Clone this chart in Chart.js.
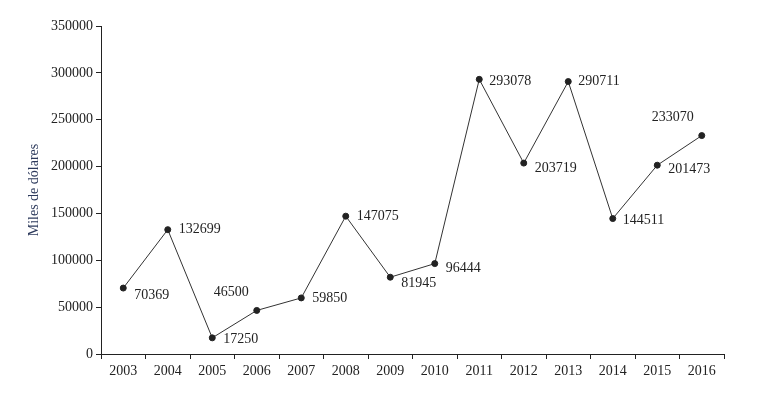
<!DOCTYPE html>
<html>
<head>
<meta charset="utf-8">
<script src="https://cdn.jsdelivr.net/npm/chart.js@4"></script>
<style>
  body { margin: 0; background: #fff; }
  #wrap { width: 782px; height: 400px; }
</style>
</head>
<body>
<div id="wrap"><canvas id="c"></canvas></div>
<script>
const years = ["2003", "2004", "2005", "2006", "2007", "2008", "2009", "2010", "2011", "2012", "2013", "2014", "2015", "2016"];
const values = [70369, 132699, 17250, 46500, 59850, 147075, 81945, 96444, 293078, 203719, 290711, 144511, 201473, 233070];
// label offsets (dx, dy, align) per point
const labelPos = [
  [11, 7, "left"], [11, 0, "left"], [11, 1, "left"], [-8, -18, "right"], [11, 0, "left"],
  [11, 0, "left"], [11, 6, "left"], [11, 5, "left"], [10, 2, "left"], [11, 5, "left"],
  [10, 0, "left"], [10, 2, "left"], [11, 4, "left"], [-8, -18, "right"]
];

Chart.defaults.font.family = "'Liberation Serif', 'DejaVu Serif', serif";
Chart.defaults.font.size = 14;
Chart.defaults.color = "#222";

const valueLabels = {
  id: "valueLabels",
  afterDatasetsDraw(chart) {
    const ctx = chart.ctx;
    const meta = chart.getDatasetMeta(0);
    ctx.save();
    ctx.font = "14px 'Liberation Serif', serif";
    ctx.fillStyle = "#222";
    ctx.textBaseline = "middle";
    meta.data.forEach((pt, i) => {
      const [dx, dy, align] = labelPos[i];
      ctx.textAlign = align;
      ctx.fillText(String(values[i]), pt.x + dx, pt.y + dy);
    });
    ctx.restore();
  }
};

new Chart(document.getElementById("c"), {
  type: "line",
  data: {
    labels: years,
    datasets: [{
      data: values,
      borderColor: "#333",
      borderWidth: 1,
      pointRadius: 3,
      pointBackgroundColor: "#222",
      pointBorderColor: "#222",
      tension: 0,
    }],
  },
  options: {
    responsive: true,
    maintainAspectRatio: false,
    animation: false,
    layout: { padding: { top: 26, right: 58, bottom: 0, left: 22 } },
    plugins: { legend: { display: false }, tooltip: { enabled: false } },
    scales: {
      x: {
        offset: true,
        grid: { color: "transparent", tickColor: "#222", tickLength: 5, offset: true },
        border: { color: "#222" },
        ticks: { color: "#222", maxRotation: 0, padding: 4 },
        afterFit(s) { s.height = 46; },
      },
      y: {
        min: 0,
        max: 350000,
        grid: { color: "transparent", tickColor: "#222", tickLength: 5 },
        border: { color: "#222" },
        ticks: { stepSize: 50000, color: "#222", padding: 3, callback: (v) => String(v) },
        title: { display: true, text: "Miles de dólares", color: "#2d3a5c", font: { size: 14 } },
        afterFit(s) { s.width = 79; },
      },
    },
  },
  plugins: [valueLabels],
});
</script>
</body>
</html>
